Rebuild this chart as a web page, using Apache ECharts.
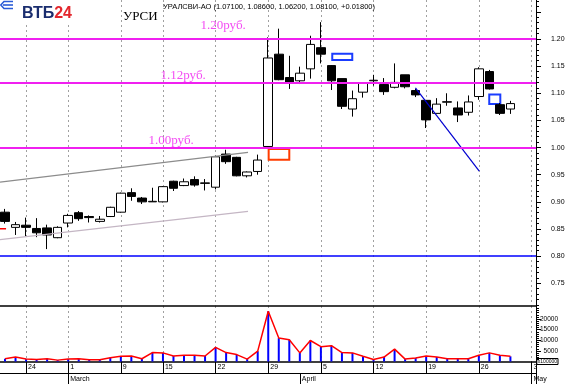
<!DOCTYPE html>
<html>
<head>
<meta charset="utf-8">
<script src="https://cdn.jsdelivr.net/npm/echarts@6.0.0/dist/echarts.min.js"></script>
<style>
html,body{margin:0;padding:0;background:#fff;}
#chart{width:568px;height:384px;}
</style>
</head>
<body>
<div id="chart"></div>
<script>
// ---------------- data ----------------
const tradingDays = [
 '2004-02-19','2004-02-20','2004-02-24','2004-02-25','2004-02-26','2004-02-27',
 '2004-03-01','2004-03-02','2004-03-03','2004-03-04','2004-03-05',
 '2004-03-09','2004-03-10','2004-03-11','2004-03-12',
 '2004-03-15','2004-03-16','2004-03-17','2004-03-18','2004-03-19',
 '2004-03-22','2004-03-23','2004-03-24','2004-03-25','2004-03-26',
 '2004-03-29','2004-03-30','2004-03-31','2004-04-01','2004-04-02',
 '2004-04-05','2004-04-06','2004-04-07','2004-04-08','2004-04-09',
 '2004-04-12','2004-04-13','2004-04-14','2004-04-15','2004-04-16',
 '2004-04-19','2004-04-20','2004-04-21','2004-04-22','2004-04-23',
 '2004-04-26','2004-04-27','2004-04-28','2004-04-29','2004-04-30',
 '2004-05-03'
];
const openP  = [0.881,0.853,0.857,0.851,0.852,0.834, 0.861,0.880,0.873,0.864,0.873, 0.881,0.917,0.907,0.900, 0.900,0.938,0.930,0.941,0.934, 0.927,0.988,0.982,0.948,0.956, 1.002,1.172,1.129,1.123,1.145, 1.184,1.151,1.127,1.071,1.102, 1.123,1.116,1.111,1.134,1.105, 1.087,1.063,1.0835,1.073,1.065, 1.094,1.140,1.079,1.071];
const closeP = [0.864,0.858,0.853,0.843,0.839,0.853, 0.875,0.869,0.871,0.868,0.890, 0.916,0.910,0.900,0.901, 0.928,0.925,0.937,0.931,0.935, 0.983,0.974,0.948,0.955,0.977, 1.165,1.125,1.119,1.137,1.190, 1.172,1.123,1.076,1.090,1.119, 1.124,1.103,1.120,1.112,1.097, 1.051,1.080,1.0845,1.060,1.084, 1.145,1.108,1.063,1.081];
const lowP   = [0.860,0.839,0.837,0.835,0.813,0.833, 0.853,0.865,0.862,0.862,0.872, 0.880,0.902,0.896,0.900, 0.899,0.920,0.929,0.928,0.921, 0.923,0.970,0.947,0.945,0.950, 1.001,1.124,1.108,1.117,1.127, 1.155,1.106,1.071,1.057,1.092, 1.114,1.097,1.109,1.109,1.093, 1.036,1.063,1.077,1.047,1.059, 1.088,1.107,1.060,1.062];
const highP  = [0.887,0.863,0.871,0.870,0.858,0.855, 0.878,0.883,0.875,0.874,0.891, 0.917,0.925,0.909,0.926, 0.929,0.939,0.943,0.947,0.942, 0.985,0.996,0.983,0.956,0.987, 1.203,1.219,1.169,1.149,1.206, 1.231,1.152,1.127,1.105,1.120, 1.134,1.128,1.155,1.134,1.108, 1.087,1.091,1.100,1.085,1.096, 1.148,1.143,1.082,1.086];
const volume = [1300,2100,1140,970,1300,650, 1140,1300,810,810,1790, 2440,2600,1300,4220, 4060,2600,2920,2920,2600, 6660,4220,3250,1140,4870, 23700,11040,10230,4060,9900, 6980,7470,4220,4060,2440, 970,2110,5850,1140,1620, 2600,2110,1300,1300,1300, 2920,4060,2920,2440];

const priceLabels = [0.75,0.80,0.85,0.90,0.95,1.00,1.05,1.10,1.15,1.20];
const priceMajorTicks = [0.75,0.80,0.85,0.90,0.95,1.00,1.05,1.10,1.15,1.20,1.25];
const volumeLabels = [5000,10000,15000,20000];
const magentaLevels = [1.20, 1.12, 1.00];
const blueLevels = [0.80];
const levelLabelAt = [[18.52, 1.2238], [14.72, 1.1334], [13.58, 1.0120]];   // [bar index, price]
const upperChannel = [[-0.475, 0.9365], [23.08, 0.9910]];
const lowerChannel = [[-0.475, 0.8303], [23.08, 0.8825]];
const blueTrend    = [[38.98, 1.1100], [45.04, 0.9568]];
const redStub      = [[-0.475, 0.8506], [0.10, 0.8506]];
const redBox   = [[25.04, 0.9972], [27.00, 0.9775]];
const blueBoxes = [ [[31.08, 1.1727], [32.98, 1.1611]], [[45.99, 1.0978], [47.04, 1.0804]] ];
const monthNames = ['January','February','March','April','May','June','July','August','September','October','November','December'];
const tickerName = 'УРАЛСВИ-АО';
const shortName = 'УРСИ';
const volMultiplier = 'x100000';

// ---------------- derived ----------------
const xMin = -0.475, xMax = 50.43;
const yMin = 0.7091, yMax = 1.2718;
const volMax = 26180;
const dts = tradingDays.map(s => new Date(s + 'T00:00:00Z'));
const weekTicks = [], monthTicks = [];
dts.forEach((d, i) => {
  if (i === 0) return;
  if ((d - dts[i - 1]) / 864e5 > 1) weekTicks.push(i);
  if (d.getUTCMonth() !== dts[i - 1].getUTCMonth()) monthTicks.push(i);
});
const priceMinorTicks = [];
for (let k = Math.ceil(yMin * 100); k <= Math.floor(yMax * 100); k++) priceMinorTicks.push(k / 100);
const volMinorTicks = [];
for (let v = 1000; v <= 25000; v += 1000) volMinorTicks.push(v);
const candleData = openP.map((o, i) => [i, o, closeP[i], lowP[i], highP[i]]);
const volData = volume.map((v, i) => [i, v]);
const n = openP.length - 1;
const f5 = v => v.toFixed(5);
const chg = closeP[n] - closeP[n - 1];
const headerText = tickerName + ' (' + f5(openP[n]) + ', ' + f5(highP[n]) + ', ' + f5(lowP[n]) + ', ' + f5(closeP[n]) + ', ' + (chg >= 0 ? '+' : '') + f5(chg) + ')';

const gridColor = '#a0a0a0';
const FONT = '"Liberation Sans", Arial, sans-serif';
const SERIF = '"Liberation Serif", "Times New Roman", serif';
const gridSplit = {show: true, lineStyle: {color: weekTicks.map(() => gridColor).concat(['#000']), type: [2, 3], width: 1}};

const chart = echarts.init(document.getElementById('chart'), null, {renderer: 'canvas', width: 568, height: 384});

const option = {
  animation: false,
  backgroundColor: '#fff',
  grid: [
    {left: 0, right: 32, top: 0, height: 305.5},
    {left: 0, right: 32, top: 306, height: 55.5}
  ],
  xAxis: [
    {gridIndex: 0, type: 'value', min: xMin, max: xMax, position: 'bottom',
     axisLine: {show: true, onZero: false, lineStyle: {color: '#000', width: 1.5}},
     axisTick: {show: false, customValues: weekTicks.concat([xMax])},
     axisLabel: {show: false}, splitLine: gridSplit},
    {gridIndex: 1, type: 'value', min: xMin, max: xMax, position: 'bottom',
     axisLine: {show: true, onZero: false, lineStyle: {color: '#000', width: 1.5}},
     axisTick: {show: true, customValues: weekTicks.concat([xMax]), length: 11.5, inside: false, lineStyle: {color: '#000'}},
     axisLabel: {customValues: weekTicks, formatter: v => String(dts[Math.round(v)].getUTCDate()),
       align: 'left', margin: 2.5, padding: [0, 0, 0, 2], fontSize: 7, color: '#000', fontFamily: FONT},
     splitLine: gridSplit},
    {gridIndex: 1, type: 'value', min: xMin, max: xMax, position: 'bottom', offset: 11.5,
     axisLine: {show: true, onZero: false, lineStyle: {color: '#000', width: 1}},
     axisTick: {show: true, customValues: monthTicks.concat([xMax]), length: 11, inside: false, lineStyle: {color: '#000'}},
     axisLabel: {customValues: monthTicks, formatter: v => monthNames[dts[Math.round(v)].getUTCMonth()],
       align: 'left', margin: 2.5, padding: [0, 0, 0, 2], fontSize: 7, color: '#000', fontFamily: FONT},
     splitLine: {show: false}}
  ],
  yAxis: [
    {gridIndex: 0, type: 'value', position: 'right', min: yMin, max: yMax,
     axisLine: {show: true, onZero: false, lineStyle: {color: '#000', width: 1}},
     axisTick: {show: true, customValues: priceMajorTicks, length: 5, inside: false, lineStyle: {color: '#000'}},
     axisLabel: {customValues: priceLabels, margin: 15, fontSize: 7, color: '#000', fontFamily: FONT,
       formatter: v => v.toFixed(2)},
     splitLine: {show: false}},
    {gridIndex: 0, type: 'value', position: 'right', min: yMin, max: yMax,
     axisLine: {show: false, onZero: false},
     axisTick: {show: true, customValues: priceMinorTicks, length: 3, inside: false, lineStyle: {color: '#000'}},
     axisLabel: {show: false}, splitLine: {show: false}},
    {gridIndex: 1, type: 'value', position: 'right', min: 0, max: volMax,
     axisLine: {show: true, onZero: false, lineStyle: {color: '#000', width: 1}},
     axisTick: {show: true, customValues: volumeLabels, length: 5, inside: false, lineStyle: {color: '#000'}},
     axisLabel: {customValues: [0].concat(volumeLabels), margin: 22, align: 'right', fontSize: 6.5, color: '#000', fontFamily: FONT,
       formatter: v => v === 0 ? '{b|' + volMultiplier + '}' : String(v),
       rich: {b: {fontSize: 5, fontFamily: FONT, color: '#000', borderColor: '#000', borderWidth: 1, padding: [1, 1, 0, 1]}}},
     splitLine: {show: false}},
    {gridIndex: 1, type: 'value', position: 'right', min: 0, max: volMax,
     axisLine: {show: false, onZero: false},
     axisTick: {show: true, customValues: volMinorTicks, length: 3, inside: false, lineStyle: {color: '#000'}},
     axisLabel: {show: false}, splitLine: {show: false}}
  ],
  graphic: [
    {type: 'rect', shape: {x: 0, y: 0, width: 76, height: 24}, style: {fill: '#fff'}, z: 100},
    {type: 'polyline', shape: {points: [[13, 1.5], [4, 1.5], [0.8, 5], [4, 8.5], [13, 8.5]]}, style: {stroke: '#2a5bd7', lineWidth: 1.6, fill: null}, z: 101},
    {type: 'line', shape: {x1: 3, y1: 5, x2: 13, y2: 5}, style: {stroke: '#2a5bd7', lineWidth: 1.6}, z: 101},
    {type: 'text', x: 22, y: 13.5, z: 101, style: {
      text: '{a|ВТБ}{b|24}', verticalAlign: 'middle',
      rich: {a: {fill: '#1a2d6e', fontSize: 16, fontWeight: 'bold', fontFamily: FONT},
             b: {fill: '#e3262c', fontSize: 16, fontWeight: 'bold', fontFamily: FONT}}}},
    {type: 'text', x: 123, y: 17, z: 101, style: {text: shortName, fill: '#000', fontSize: 13, fontFamily: SERIF, verticalAlign: 'middle'}},
    {type: 'text', x: 163, y: 6.5, z: 101, style: {text: headerText, fill: '#000', fontSize: 7.5, fontFamily: FONT, verticalAlign: 'middle'}}
  ],
  series: [
    {type: 'candlestick', xAxisIndex: 0, yAxisIndex: 0, data: candleData,
     encode: {x: 0, y: [1, 2, 3, 4]}, barWidth: 9, z: 3,
     itemStyle: {color: '#fff', color0: '#000', borderColor: '#000', borderColor0: '#000', borderColorDoji: '#000', borderWidth: 1},
     markLine: {silent: true, symbol: ['none', 'none'], label: {show: false},
       lineStyle: {type: 'solid'},
       data: magentaLevels.map(v => ({yAxis: v, lineStyle: {color: '#f020f0', width: 2, type: 'solid'}}))
         .concat(blueLevels.map(v => ({yAxis: v, lineStyle: {color: '#0000ff', width: 1.5, type: 'solid'}})))},
     markArea: {silent: true, label: {show: false},
       data: [
         [{coord: redBox[0], itemStyle: {color: 'rgba(0,0,0,0)', borderColor: '#ff3c00', borderWidth: 2}}, {coord: redBox[1]}]
       ].concat(blueBoxes.map(b => [{coord: b[0], itemStyle: {color: 'rgba(0,0,0,0)', borderColor: '#1a3cff', borderWidth: 2}}, {coord: b[1]}]))}
    },
    {type: 'line', xAxisIndex: 0, yAxisIndex: 0, data: upperChannel, symbol: 'none', z: 4, lineStyle: {color: '#8c8c8c', width: 1.2}},
    {type: 'line', xAxisIndex: 0, yAxisIndex: 0, data: lowerChannel, symbol: 'none', z: 4, lineStyle: {color: '#c4b6c4', width: 1.2}},
    {type: 'line', xAxisIndex: 0, yAxisIndex: 0, data: blueTrend, symbol: 'none', z: 4, lineStyle: {color: '#0000d0', width: 1.2}},
    {type: 'line', xAxisIndex: 0, yAxisIndex: 0, data: redStub, symbol: 'none', z: 4, lineStyle: {color: '#ff0000', width: 1.5}},
    {type: 'scatter', xAxisIndex: 0, yAxisIndex: 0, data: levelLabelAt, symbolSize: 1, z: 5,
     itemStyle: {color: 'rgba(0,0,0,0)'},
     label: {show: true, position: 'right', distance: 0, color: '#f020f0', fontSize: 13, fontFamily: SERIF,
       formatter: p => magentaLevels[p.dataIndex].toFixed(2) + 'руб.'}},
    {type: 'bar', xAxisIndex: 1, yAxisIndex: 2, data: volData, barWidth: 2, itemStyle: {color: '#0000ff'}, z: 2},
    {type: 'line', xAxisIndex: 1, yAxisIndex: 2, data: volData, symbol: 'none', z: 3, lineStyle: {color: '#ff0000', width: 1.5}}
  ]
};
chart.setOption(option);
</script>
</body>
</html>
